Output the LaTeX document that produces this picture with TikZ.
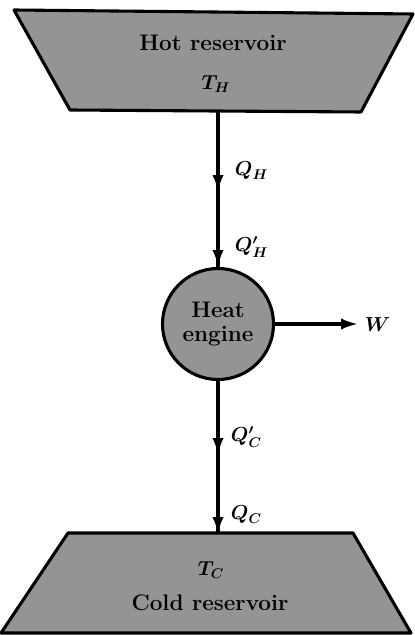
\documentclass[tikz,border=0pt]{standalone}
\usetikzlibrary{arrows.meta}
\begin{document}
\begin{tikzpicture}[x=0.025cm,y=-0.025cm,
  reservoir/.style={draw=black,line width=2.2pt,fill=black!42,line join=round},
  wire/.style={line width=2.2pt},
  flow/.style={line width=2.2pt,-{Latex[length=12pt,width=8pt]}},
  lbl/.style={font=\fontsize{16}{19}\selectfont\bfseries},
  mlbl/.style={font=\fontsize{14}{16}\selectfont\boldmath}]
\useasboundingbox (0,0) rectangle (414,635);
% hot reservoir
\draw[reservoir] (14,10) -- (413,14) -- (361,112) -- (70,110) -- cycle;
\node[lbl] (hot) at (213,43) {Hot reservoir};
\node[mlbl] (th) at (216,84) {$T_H$};
% cold reservoir
\draw[reservoir] (68,533) -- (353,533) -- (411,633) -- (1,633) -- cycle;
\node[mlbl] (tc) at (211,570) {$T_C$};
\node[lbl] (cold) at (210,603) {Cold reservoir};
% engine
\node[circle,draw=black,line width=2.2pt,fill=black!42,minimum size=111*0.025cm,inner sep=0pt,
      align=center,font=\fontsize{16}{17}\selectfont\bfseries] (eng) at (218,324) {Heat\\engine};
% connector coordinates
\coordinate (hb) at (218,111);
\coordinate (m1) at (218,192);
\coordinate (m2) at (218,455);
\coordinate (ct) at (218,534);
\coordinate (wend) at (358,324);
\draw[wire] (hb) -- (eng.north);
\draw[wire] (eng.south) -- (ct);
\draw[flow] (hb) -- (m1);
\draw[flow] (m1) -- (eng.north);
\draw[flow] (eng.south) -- (m2);
\draw[flow] (m2) -- (ct);
\draw[flow] (eng.east) -- (wend);
% labels
\node[mlbl,anchor=west] (qh) at (230,171) {$Q_H$};
\node[mlbl,anchor=west] (qhp) at (230,247) {$Q'_H$};
\node[mlbl,anchor=west] (qcp) at (226,437) {$Q'_C$};
\node[mlbl,anchor=west] (qc) at (226,515) {$Q_C$};
\node[mlbl,anchor=west] (w) at (360,325) {$W$};
\end{tikzpicture}
\end{document}
